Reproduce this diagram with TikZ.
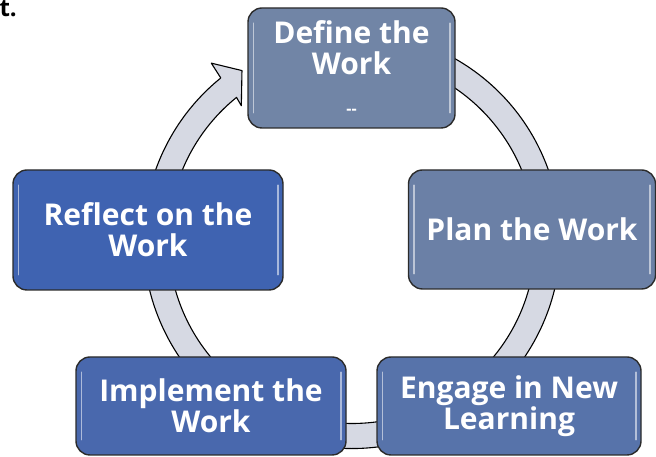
\documentclass[tikz,border=0pt]{standalone}
\usepackage{fontspec}
\setmainfont{Open Sans}
\definecolor{ringfill}{HTML}{D6D9E3}
\definecolor{boxline}{HTML}{2B2B2B}
\definecolor{cDefine}{HTML}{7185A6}
\definecolor{cPlan}{HTML}{6B80A6}
\definecolor{cReflect}{HTML}{3F63B1}
\definecolor{cImpl}{HTML}{4968AD}
\definecolor{cEngage}{HTML}{5773AA}
\begin{document}
\begin{tikzpicture}[x=1pt,y=1pt,
  box/.style={draw=boxline, line width=1.4pt, rounded corners=14pt, text=white,
    font=\bfseries\fontsize{30}{31}\selectfont, align=center, inner sep=0pt},
  hl/.style={draw=white, draw opacity=0.55, line width=1.6pt, line cap=round},
  ring/.style={draw=black, fill=ringfill, line width=1.1pt, line join=round}
]
\useasboundingbox (0,0) rectangle (656,457);

% circular arrow ring
\begin{scope}[shift={(352,217)}]
  \path[ring] (110:208.5) arc[start angle=110, end angle=-231, radius=208.5]
    -- (-231.5:226) -- (-237:202) -- (-230.5:174)
    -- (-231:183.5) arc[start angle=-231, end angle=110, radius=183.5] -- cycle;
\end{scope}

% boxes
\node[box, fill=cDefine, minimum width=207pt, minimum height=120pt] (define) at (351.5,389)
  {Define the\\Work\\[9pt]{\fontsize{16}{16}\selectfont -{}-}};
\node[box, fill=cPlan, minimum width=247pt, minimum height=119pt] (plan) at (532,227.5)
  {Plan the Work};
\node[box, fill=cReflect, minimum width=270pt, minimum height=120pt] (reflect) at (148,227)
  {Reflect on the\\Work};
\node[box, fill=cImpl, minimum width=270pt, minimum height=98pt] (impl) at (211,51)
  {Implement the\\Work};
\node[box, fill=cEngage, minimum width=264pt, minimum height=98pt] (engage) at (509,51)
  {Engage in New\\Learning};

% glossy edge highlights
\foreach \b in {define,plan,reflect,impl,engage}{
  \draw[hl] ([xshift=6pt,yshift=-16pt]\b.north west) -- ([xshift=6pt,yshift=16pt]\b.south west);
  \draw[hl] ([xshift=-6pt,yshift=-16pt]\b.north east) -- ([xshift=-6pt,yshift=16pt]\b.south east);
}

% partial title text at the top-left corner
\node[anchor=base east, inner sep=0pt, font=\bfseries\fontsize{24}{24}\selectfont] (title) at (17,440) {t.};
\end{tikzpicture}
\end{document}
